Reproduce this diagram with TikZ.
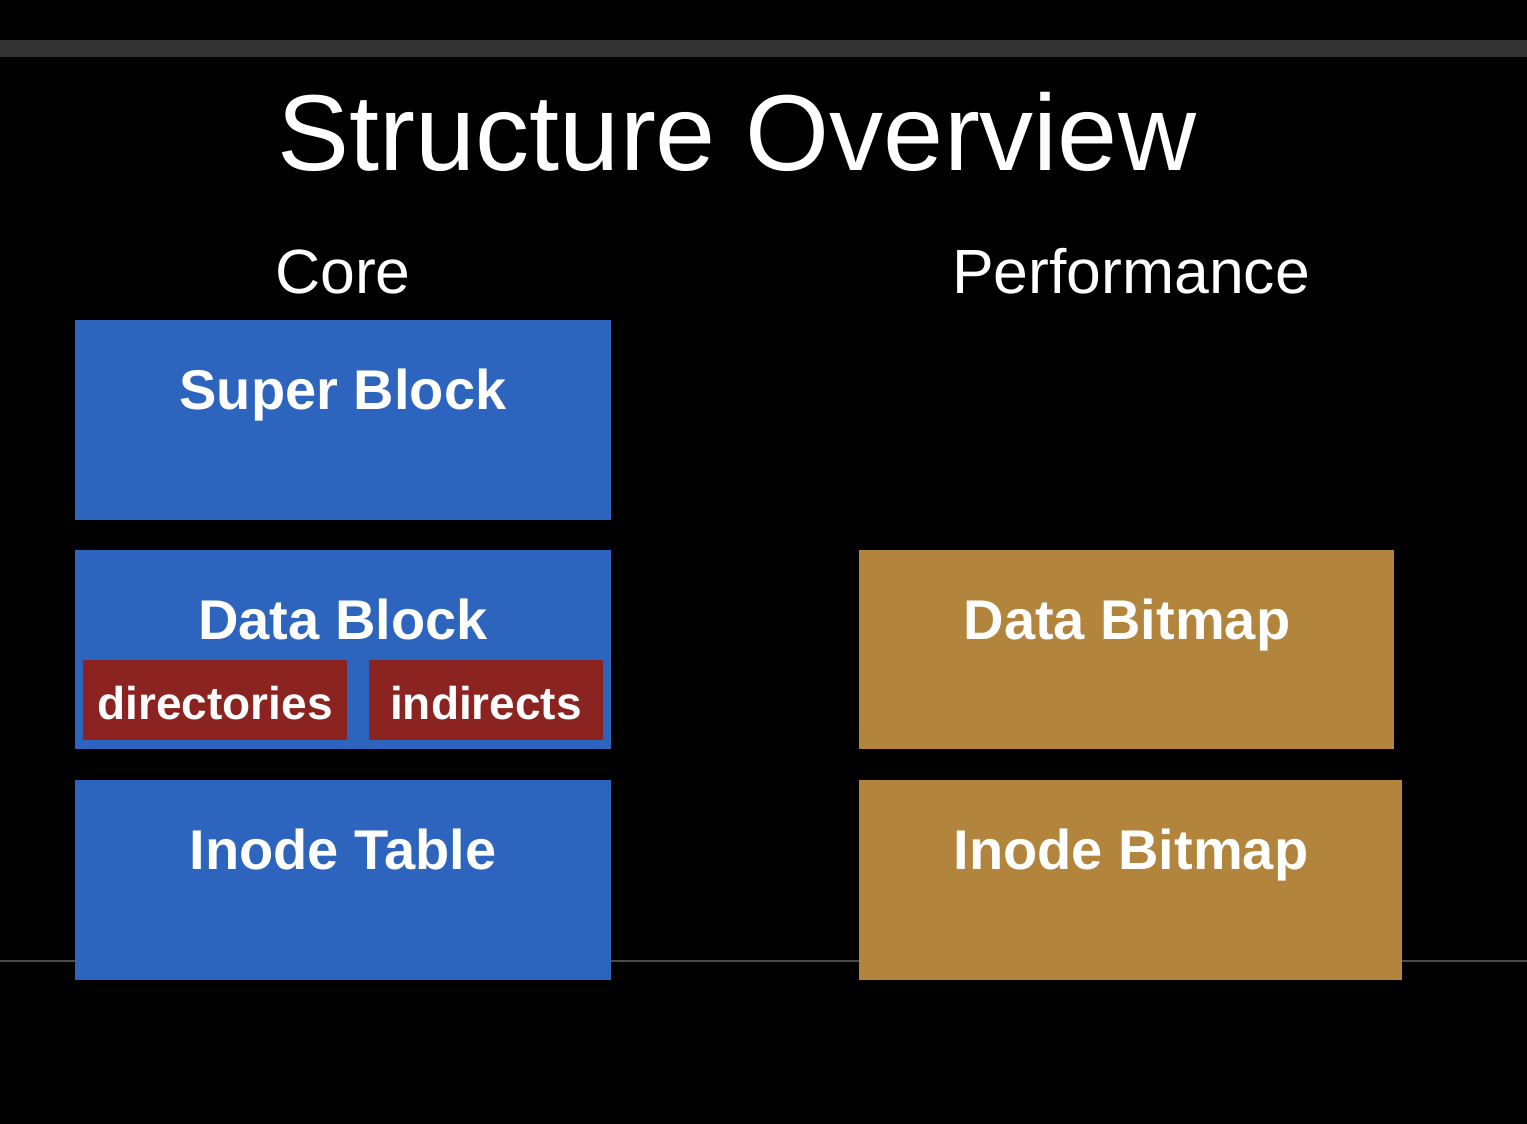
\documentclass[tikz,border=0pt]{standalone}
\usepackage{fontspec}
\setmainfont{Liberation Sans}
\definecolor{coreblue}{RGB}{45,100,189}
\definecolor{perfgold}{RGB}{179,132,60}
\definecolor{subred}{RGB}{139,36,32}
\definecolor{bargray}{RGB}{51,51,51}
\definecolor{lineg}{RGB}{75,75,75}
\tikzset{
  box/.style={fill=#1, draw=none, inner sep=0pt, anchor=north west},
  lbl/.style={text=white, font=\bfseries\fontsize{56}{60}\selectfont, anchor=base, inner sep=0pt},
  sublbl/.style={text=white, font=\bfseries\fontsize{46}{50}\selectfont, anchor=base, inner sep=0pt},
  head/.style={text=white, font=\fontsize{62.5}{70}\selectfont, anchor=base, inner sep=0pt},
}
\begin{document}
\begin{tikzpicture}[x=1pt,y=-1pt]
\fill[black] (0,0) rectangle (1527,1124);
\useasboundingbox (0,0) rectangle (1527,1124);
% top bar
\fill[bargray] (0,40) rectangle (1527,57);
% thin line
\coordinate (lineL) at (0,961);
\coordinate (lineR) at (1527,961);
\draw[lineg, line width=1.5pt] (lineL) -- (lineR);
% title
\node[text=white, font=\fontsize{108}{120}\selectfont, anchor=base, inner sep=0pt] (title) at (737,170) {Structure Overview};
\node[head] (core) at (343,293) {Core};
\node[head] (perf) at (1131,293) {Performance};
% core boxes
\node[box=coreblue, minimum width=536pt, minimum height=200pt] (super) at (75,320) {};
\node[box=coreblue, minimum width=536pt, minimum height=199pt] (data) at (75,550) {};
\node[box=coreblue, minimum width=536pt, minimum height=200pt] (inode) at (75,780) {};
\node[box=subred, minimum width=264pt, minimum height=80pt] (dirs) at (83,660) {};
\node[box=subred, minimum width=234pt, minimum height=80pt] (ind) at (369,660) {};
% performance boxes
\node[box=perfgold, minimum width=535pt, minimum height=199pt] (dbm) at (859,550) {};
\node[box=perfgold, minimum width=543pt, minimum height=200pt] (ibm) at (859,780) {};
% labels
\node[lbl] (superT) at (343,409) {Super Block};
\node[lbl] (dataT) at (343,639) {Data Block};
\node[lbl] (inodeT) at (343,869) {Inode Table};
\node[sublbl] (dirsT) at (215,719) {directories};
\node[sublbl] (indT) at (486,719) {indirects};
\node[lbl] (dbmT) at (1127,639) {Data Bitmap};
\node[lbl] (ibmT) at (1131,869) {Inode Bitmap};
\end{tikzpicture}
\end{document}
